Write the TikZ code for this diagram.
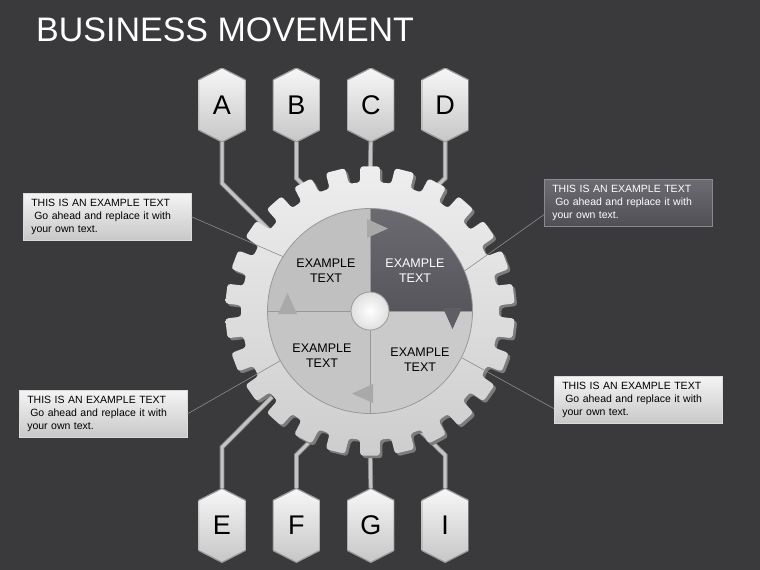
\documentclass[tikz,border=0pt]{standalone}
\usepackage{fontspec}
\setmainfont{Liberation Sans}
\usetikzlibrary{positioning}
\definecolor{bgdark}{HTML}{3A3A3C}
\definecolor{hexlight}{HTML}{F7F7F7}
\definecolor{hexdark}{HTML}{C6C6C6}
\definecolor{hexedge}{HTML}{9A9A9A}
\definecolor{wireedge}{HTML}{858585}
\definecolor{wirefill}{HTML}{C4C4C4}
\definecolor{gearlight}{HTML}{EEEEEE}
\definecolor{geardark}{HTML}{CDCDCD}
\definecolor{gearshadow}{HTML}{7C7C7C}
\definecolor{qtl}{HTML}{C0C0C0}
\definecolor{qtrtop}{HTML}{6A6A70}
\definecolor{qtrbot}{HTML}{56565C}
\definecolor{qbl}{HTML}{C5C5C5}
\definecolor{qbr}{HTML}{CACACA}
\definecolor{discedge}{HTML}{999999}
\definecolor{arrowlight}{HTML}{A9A9A9}
\definecolor{arrowdark}{HTML}{5E5E64}
\definecolor{boxtop}{HTML}{F4F4F4}
\definecolor{boxbottom}{HTML}{C8C8C8}
\definecolor{boxedge}{HTML}{DADADA}
\definecolor{darkboxtop}{HTML}{6C6C72}
\definecolor{darkboxbottom}{HTML}{4F4F55}
\definecolor{leadline}{HTML}{8C8C8C}

\begin{document}
\begin{tikzpicture}[x=1pt, y=-1pt,
  hexa/.style={minimum width=47pt, minimum height=74pt, inner sep=0pt, font=\fontsize{27}{27}\selectfont,
    path picture={\shade[top color=hexlight, bottom color=hexdark, draw=hexedge, line width=1.2pt]
      (path picture bounding box.north) -- ([yshift=-12pt]path picture bounding box.north east)
      -- ([yshift=12pt]path picture bounding box.south east) -- (path picture bounding box.south)
      -- ([yshift=12pt]path picture bounding box.south west) -- ([yshift=-12pt]path picture bounding box.north west) -- cycle;}},
  wire/.style={draw=wireedge, line width=0.9pt, double=wirefill, double distance=3pt},
  note/.style={draw=boxedge, line width=0.6pt, top color=boxtop, bottom color=boxbottom, anchor=north west, minimum width=168pt, minimum height=47pt, text width=152pt, inner xsep=8pt, align=left, font=\fontsize{10.5}{13}\selectfont},
  darknote/.style={note, draw=darkboxtop!80!white, top color=darkboxtop, bottom color=darkboxbottom, text=white},
  lead/.style={draw=leadline, line width=0.6pt},
  qlabel/.style={align=center, inner sep=0pt, font=\fontsize{12.5}{15}\selectfont},
  divider/.style={draw=discedge, line width=0.6pt}
]
\fill[bgdark] (0,0) rectangle (760,570);
\useasboundingbox (0,0) rectangle (760,570);

\node[anchor=west, inner sep=0pt, text=white, font=\fontsize{34}{36}\selectfont] (title) at (36,29.5) {BUSINESS MOVEMENT};

% letter tags
\node[hexa] (A) at (222,105) {A};
\node[hexa, right=27pt of A] (B) {B};
\node[hexa, right=27pt of B] (C) {C};
\node[hexa, right=27pt of C] (D) {D};
\node[hexa, below=346pt of A] (E) {E};
\node[hexa, right=27pt of E] (F) {F};
\node[hexa, right=27pt of F] (G) {G};
\node[hexa, right=27pt of G] (I) {I};

% wires, ends hidden under the gear
\coordinate (wa) at (282,243);
\coordinate (wb) at (320,202);
\coordinate (wc) at (370,185);
\coordinate (wd) at (420,202);
\coordinate (we) at (272,397);
\coordinate (wf) at (330,421);
\coordinate (wg) at (370,440);
\coordinate (wi) at (410,421);
\draw[wire] (A.south) -- ++(0,41) -- (wa);
\draw[wire] (B.south) -- ++(0,36) -- (wb);
\draw[wire] (C.south) -- (wc);
\draw[wire] (D.south) -- ++(0,36) -- (wd);
\draw[wire] (E.north) -- ++(0,-41) -- (we);
\draw[wire] (F.north) -- ++(0,-33) -- (wf);
\draw[wire] (G.north) -- (wg);
\draw[wire] (I.north) -- ++(0,-33) -- (wi);

% gear
\begin{scope}[shift={(370,311)}, y=1pt]
  \fill[gearshadow, rounded corners=3pt, shift={(2.5,-2.5)}] (83.08:129)
    \foreach \i in {0,...,25} { -- ({90+\i*13.846-4.4}:129) -- ({90+\i*13.846-3.9}:145) -- ({90+\i*13.846+3.9}:145) -- ({90+\i*13.846+4.4}:129) } -- cycle;
  \shade[top color=gearlight, bottom color=geardark, rounded corners=3pt] (83.08:129)
    \foreach \i in {0,...,25} { -- ({90+\i*13.846-4.4}:129) -- ({90+\i*13.846-3.9}:145) -- ({90+\i*13.846+3.9}:145) -- ({90+\i*13.846+4.4}:129) } -- cycle;
  \fill[qtl] (0,0) -- (90:102.5) arc[start angle=90, end angle=180, radius=102.5] -- cycle;
  \shade[top color=qtrtop, bottom color=qtrbot] (0,0) -- (0:102.5) arc[start angle=0, end angle=90, radius=102.5] -- cycle;
  \fill[qbl] (0,0) -- (180:102.5) arc[start angle=180, end angle=270, radius=102.5] -- cycle;
  \fill[qbr] (0,0) -- (270:102.5) arc[start angle=270, end angle=360, radius=102.5] -- cycle;
  \draw[divider] (-102.5,0) -- (102.5,0) (0,102.5) -- (0,-102.5);
  \foreach \r/\c in {0/arrowlight, -90/arrowdark, -180/arrowlight, -270/arrowlight}
    \fill[\c, rotate=\r] (-3,92) -- (-3,73) -- (18,82.5) -- cycle;
  \node[circle, minimum size=205pt, inner sep=0pt, draw=discedge, line width=0.8pt] (disc) at (0,0) {};
  \node[circle, minimum size=38pt, inner sep=0pt, draw=discedge, line width=0.8pt, inner color=white, outer color=gray!25] (hub) at (0,0) {};
\end{scope}

\node[qlabel] (ltl) at (326,271) {EXAMPLE\\TEXT};
\node[qlabel, text=white] (ltr) at (415,271) {EXAMPLE\\TEXT};
\node[qlabel] (lbl) at (322,356) {EXAMPLE\\TEXT};
\node[qlabel] (lbr) at (420,360) {EXAMPLE\\TEXT};

% callouts
\node[note] (ntl) at (23,193) {THIS IS AN EXAMPLE TEXT\\\hspace*{3pt}Go ahead and replace it with\\your own text.};
\node[darknote] (ntr) at (544,179) {THIS IS AN EXAMPLE TEXT\\\hspace*{3pt}Go ahead and replace it with\\your own text.};
\node[note] (nbl) at (19,390) {THIS IS AN EXAMPLE TEXT\\\hspace*{3pt}Go ahead and replace it with\\your own text.};
\node[note] (nbr) at (554,376) {THIS IS AN EXAMPLE TEXT\\\hspace*{3pt}Go ahead and replace it with\\your own text.};
\draw[lead] (ntl.east) -- (disc.148);
\draw[lead] (ntr.188) -- (disc.23);
\draw[lead] (nbl.east) -- (disc.209);
\draw[lead] (nbr.186) -- (disc.333);
\end{tikzpicture}
\end{document}
